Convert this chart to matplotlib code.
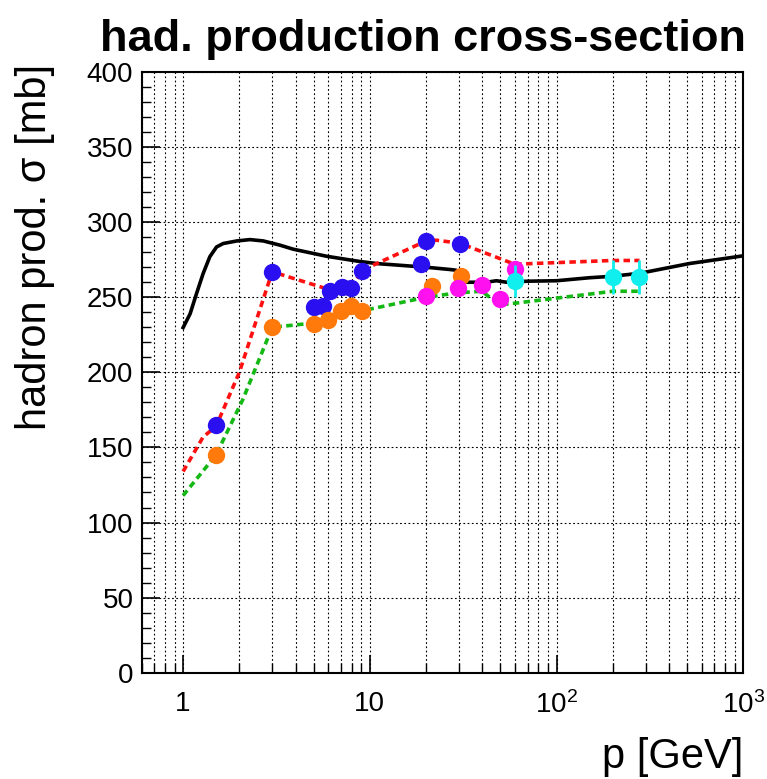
import matplotlib
matplotlib.use("Agg")
import matplotlib.pyplot as plt
from matplotlib import font_manager
from matplotlib.ticker import FixedLocator, FixedFormatter, NullFormatter, MultipleLocator

# ---------------- data ----------------
model_p = [1.0, 1.09, 1.18, 1.28, 1.39, 1.51, 1.64, 1.94, 2.28, 2.69, 3.3, 3.89, 5.87,
           8.85, 11.0, 14.5, 20.0, 26.8, 29.0, 31.0, 33.0, 42.0, 47.6, 54.0, 70.0, 100.0,
           150.0, 200.0, 280.0, 517.0, 1000.0]
model_sigma = [229.8, 239, 252.5, 265.8, 277, 283.5, 285.8, 287.5, 288.4, 287.5, 284.7,
               282.0, 277.3, 273.8, 272.4, 271.3, 270, 268.5, 268, 264, 260, 260, 261.0,
               260.0, 260.7, 261, 263, 264, 266, 272.5, 277.6]

red_p = [1.0, 1.28, 1.5, 2.0, 3.0, 6.1, 7.1, 8.0, 9.1, 20.0, 22.7, 30.3, 59.6, 200.0, 278.0]
red_sigma = [134, 157, 164, 200, 267, 255, 256.5, 256.5, 268, 287.5, 288, 286, 272, 274.5, 274.5]

green_p = [1.0, 1.5, 2.09, 3.0, 4.3, 5.0, 6.0, 7.0, 7.9, 9.1, 20.0, 29.7, 39.8, 49.5, 59.6,
           200.0, 278.0]
green_sigma = [118, 145, 182, 230, 232, 232.5, 235, 241, 244, 241, 250, 253, 254, 245, 246,
               254, 254]

blue_p = [1.5, 3.0, 5.0, 5.6, 6.15, 7.06, 7.9, 9.1, 18.9, 20.0, 30.3]
blue_sigma = [165, 267, 243.5, 244, 254, 257, 256.5, 267.5, 272, 287.5, 285.3]

orange_p = [1.5, 3.0, 5.0, 6.0, 7.0, 7.9, 9.1, 21.6, 30.9]
orange_sigma = [145, 230, 232.5, 235, 241, 244, 241, 257.5, 264]

magenta_p = [20.0, 29.7, 39.8, 49.5, 59.6]
magenta_sigma = [251, 256.5, 258, 248.7, 269]

cyan_p = [59.6, 200.0, 278.0]
cyan_sigma = [260.7, 263.5, 263.5]
cyan_err = [10.5, 11, 11]

xtick_vals = [1, 10, 100, 1000]
xtick_labels = ["1", "10", "$10^{2}$", "$10^{3}$"]

# ---------------- fonts ----------------
names = {f.name for f in font_manager.fontManager.ttflist}
narrow = "Liberation Sans Narrow" in names
base = "Liberation Sans"
lab_family = "Liberation Sans Narrow" if narrow else base
plt.rcParams["font.family"] = [base, "DejaVu Sans"]
plt.rcParams["mathtext.fontset"] = "custom"
plt.rcParams["mathtext.rm"] = base
plt.rcParams["mathtext.it"] = base + ":italic"
plt.rcParams["mathtext.bf"] = base + ":bold"

title_size = 39.5 if narrow else 32.5
label_size = 36.5 if narrow else 30
tick_size = 20

# ---------------- figure ----------------
W, H = 767, 779
fig = plt.figure(figsize=(W / 100, H / 100), dpi=100)
ax = fig.add_axes([141.7 / W, 1 - 672.7 / H, (743.3 - 141.7) / W, (672.7 - 72) / H])

ax.set_xscale("log")
ax.set_xlim(0.6, 1000)
ax.set_ylim(0, 400)

# grid
dot = (0, (1.6, 2.2))
ax.grid(True, which="major", axis="both", color="black", linestyle=dot, linewidth=0.8)
ax.grid(True, which="minor", axis="x", color="black", linestyle=dot, linewidth=0.8)

# model curve
ax.plot(model_p, model_sigma, color="black", linewidth=2.6, zorder=3)
# model at data points
ax.plot(red_p, red_sigma, color="#ff1010", linewidth=2.6, linestyle=(0, (1.8, 1.2)), zorder=3)
ax.plot(green_p, green_sigma, color="#14b814", linewidth=2.6, linestyle=(0, (1.8, 1.2)), zorder=3)

ms = 12.5
ax.plot(blue_p, blue_sigma, "o", color="#2a10f0", markersize=ms, markeredgewidth=0, zorder=4)
ax.plot(orange_p, orange_sigma, "o", color="#ff7a0a", markersize=ms, markeredgewidth=0, zorder=5)
ax.plot(magenta_p, magenta_sigma, "o", color="#ff10ee", markersize=ms, markeredgewidth=0, zorder=6)
ax.errorbar(cyan_p, cyan_sigma, yerr=cyan_err, fmt="o", color="#10eeee", markersize=ms,
            markeredgewidth=0, elinewidth=2.0, capsize=0, zorder=7)

# ticks
ax.xaxis.set_major_locator(FixedLocator(xtick_vals))
ax.xaxis.set_major_formatter(FixedFormatter(xtick_labels))
minors = [m * 10 ** e for e in range(-1, 3) for m in range(2, 10)]
ax.xaxis.set_minor_locator(FixedLocator([v for v in minors if 0.6 <= v <= 1000]))
ax.xaxis.set_minor_formatter(NullFormatter())
ax.yaxis.set_major_locator(MultipleLocator(50))
ax.yaxis.set_minor_locator(MultipleLocator(10))

ax.tick_params(axis="both", which="both", direction="in", top=False, right=False,
               labelsize=tick_size, colors="black")
ax.tick_params(axis="x", which="major", length=13, width=1.2, pad=13)
ax.tick_params(axis="x", which="minor", length=7, width=1.0)
ax.tick_params(axis="y", which="major", length=13, width=1.2, pad=6)
ax.tick_params(axis="y", which="minor", length=6.5, width=1.0)
for s in ax.spines.values():
    s.set_linewidth(1.5)
    s.set_color("black")

# texts
fig.text(423 / W, 1 - 51 / H, "had. production cross-section", fontsize=title_size,
         fontweight="bold", family=[lab_family, "DejaVu Sans"], ha="center", va="baseline")
fig.text(35 / W, 1 - 64 / H, "hadron prod. σ [mb]", fontsize=label_size, rotation=90,
         family=[lab_family, "DejaVu Sans"], ha="center", va="top")
fig.text(743 / W, 1 - 768 / H, "p [GeV]", fontsize=label_size,
         family=[lab_family, "DejaVu Sans"], ha="right", va="baseline")

fig.savefig("out.png", dpi=100)
